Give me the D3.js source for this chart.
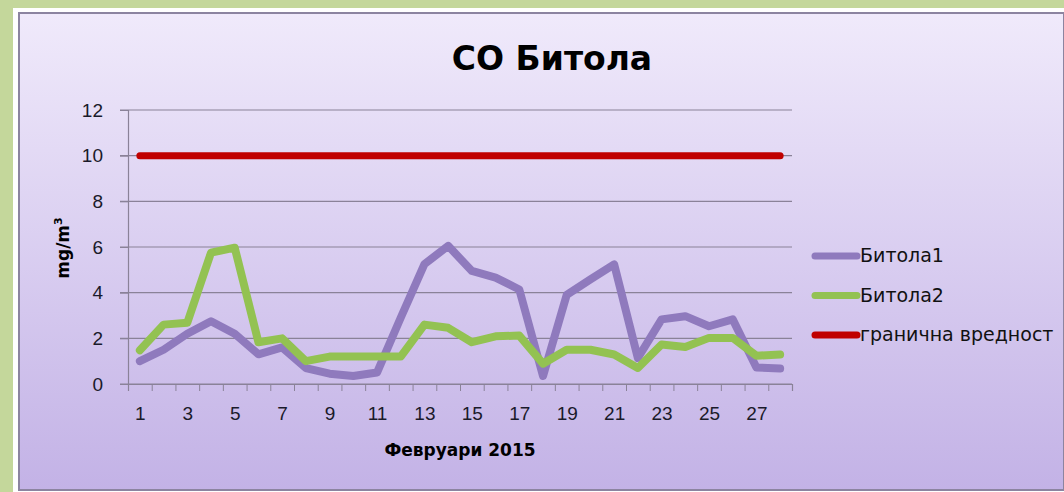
<!DOCTYPE html>
<html><head><meta charset="utf-8">
<script src="https://cdn.jsdelivr.net/npm/d3@7/dist/d3.min.js"></script>
<style>
html,body{margin:0;padding:0;background:#c4d79b;}
svg{display:block;font-family:"Comic Sans MS","DejaVu Sans",sans-serif;}
</style></head>
<body>
<svg id="chart" width="1064" height="492"></svg>
<script>
const days = d3.range(1, 29);
const bitola1 = [1.0,1.5,2.2,2.75,2.2,1.3,1.6,0.7,0.45,0.35,0.5,2.9,5.25,6.05,4.95,4.66,4.14,0.35,3.9,4.58,5.24,1.14,2.83,2.97,2.53,2.83,0.72,0.68];
const bitola2 = [1.48,2.6,2.68,5.75,5.97,1.83,2.0,1.0,1.2,1.2,1.2,1.2,2.6,2.46,1.83,2.09,2.12,0.89,1.5,1.5,1.29,0.7,1.73,1.62,2.02,2.02,1.24,1.29];
const limit = days.map(() => 10);
const yTicks = [0,2,4,6,8,10,12];
const xLabels = d3.range(1, 28, 2);
const seriesNames = ["Битола1","Битола2","гранична вредност"];
const seriesColors = ["#8f7abd","#93c252","#c00000"];
const seriesData = [bitola1, bitola2, limit];

const svg = d3.select("#chart");
const defs = svg.append("defs");
const grad = defs.append("linearGradient").attr("id","bg").attr("x1",0).attr("y1",0).attr("x2",0).attr("y2",1);
grad.append("stop").attr("offset","0%").attr("stop-color","#f0eafb");
grad.append("stop").attr("offset","100%").attr("stop-color","#c3b2e6");

// frame
svg.append("rect").attr("x",13).attr("y",8).attr("width",1051).attr("height",484).attr("fill","#ffffff");
svg.append("rect").attr("x",19).attr("y",13).attr("width",1045).attr("height",477).attr("fill","url(#bg)")
  .attr("stroke","#8c84a0").attr("stroke-width",2);

const x = d3.scaleLinear().domain([0.5, 28.5]).range([128, 792]);
const y = d3.scaleLinear().domain([0, 12]).range([384, 110]);

// gridlines
svg.append("g").selectAll("line").data(yTicks).join("line")
  .attr("x1",120).attr("x2",792).attr("y1",d=>y(d)).attr("y2",d=>y(d))
  .attr("stroke","#8a8298").attr("stroke-width",1.2);

// y axis
const yAxis = svg.append("g").attr("transform","translate(128,0)")
  .call(d3.axisLeft(y).tickValues(yTicks).tickSize(8).tickPadding(17));
yAxis.select(".domain").attr("stroke","#8a8298").attr("stroke-width",1.2);
yAxis.selectAll(".tick line").attr("stroke","#8a8298");
yAxis.selectAll("text").attr("font-size",19).attr("fill","#1a1a2a");

// x axis tick marks (category boundaries)
const xAxis = svg.append("g").attr("transform","translate(0,384)")
  .call(d3.axisBottom(x).tickValues(d3.range(0.5, 29, 1)).tickSize(7).tickFormat(""));
xAxis.select(".domain").attr("stroke","#8a8298").attr("stroke-width",1.2);
xAxis.selectAll(".tick line").attr("stroke","#8a8298");
// x labels
const xLab = svg.append("g").attr("transform","translate(0,384)")
  .call(d3.axisBottom(x).tickValues(xLabels).tickSize(0).tickPadding(23).tickFormat(d3.format("d")));
xLab.select(".domain").remove();
xLab.selectAll("text").attr("font-size",19).attr("fill","#1a1a2a");

// lines
const line = d3.line().x((d,i)=>x(days[i])).y(d=>y(d));
seriesData.forEach((s,k)=>{
  svg.append("path").datum(s).attr("d",line).attr("fill","none")
    .attr("stroke",seriesColors[k]).attr("stroke-width",k===2?7:8)
    .attr("stroke-linejoin","round").attr("stroke-linecap","round");
});

// title
svg.append("text").attr("x",552).attr("y",70).attr("text-anchor","middle")
  .attr("font-size",33).attr("font-weight","bold").attr("fill","#000").text("CO Битола");

// axis titles
svg.append("text").attr("x",460).attr("y",456).attr("text-anchor","middle")
  .attr("font-size",17).attr("font-weight","bold").attr("fill","#000").text("Февруари 2015");
const yt = svg.append("text").attr("transform","translate(69,248) rotate(-90)").attr("text-anchor","middle")
  .attr("font-size",17).attr("font-weight","bold").attr("fill","#000");
yt.append("tspan").text("mg/m");
yt.append("tspan").attr("dy",-7).attr("font-size",11).text("3");

// legend
const lg = svg.append("g");
seriesNames.forEach((n,k)=>{
  const ly = 256 + k*39.5;
  lg.append("line").attr("x1",815).attr("x2",857).attr("y1",ly).attr("y2",ly)
    .attr("stroke",seriesColors[k]).attr("stroke-width",7).attr("stroke-linecap","round");
  lg.append("text").attr("x",860).attr("y",ly+6).attr("font-size",19).attr("fill","#111").text(n);
});
</script>
</body></html>
